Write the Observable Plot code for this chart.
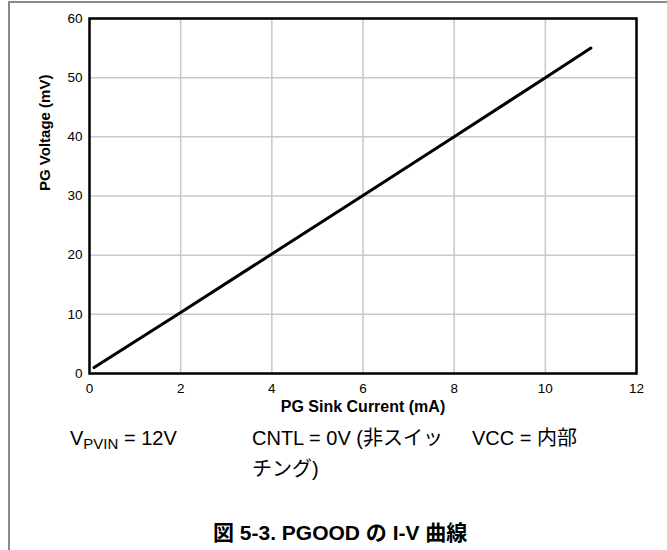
<!DOCTYPE html>
<html>
<head>
<meta charset="utf-8">
<script src="https://cdn.jsdelivr.net/npm/d3@7"></script>
<script src="https://cdn.jsdelivr.net/npm/@observablehq/plot@0.6"></script>
<style>
  html, body { margin: 0; padding: 0; background: #fff; }
  #wrap { position: relative; width: 667px; height: 550px; overflow: hidden; background: #fff;
          font-family: "Liberation Sans", Arial, "Noto Sans CJK JP", sans-serif; }
  #border { position: absolute; left: 8px; top: 1px; width: 670px; height: 560px;
            border-top: 2px solid #8a8a8a; border-left: 2px solid #8a8a8a; }
  #chart { position: absolute; left: 0; top: 0; }
  #cap { position: absolute; left: 0; top: 0; }
</style>
</head>
<body>
<div id="wrap">
  <div id="border"></div>
  <div id="chart"></div>
  <svg id="cap" width="667" height="550" font-family="Liberation Sans, Arial, Noto Sans CJK JP, sans-serif" fill="#000">
    <text x="70" y="445" font-size="20">V<tspan font-size="15" dy="4">PVIN</tspan><tspan dy="-4"> = 12V</tspan></text>
    <text x="252" y="445" font-size="20">CNTL = 0V (非スイッ</text>
    <text x="252" y="476" font-size="20">チング)</text>
    <text x="472" y="445" font-size="20">VCC = 内部</text>
    <text x="213" y="540" font-size="21" font-weight="bold">図 5-3. PGOOD の I-V 曲線</text>
  </svg>
</div>
<script>
// Data
const sinkCurrent = [0.1, 2, 4, 6, 8, 10, 11];        // mA
const pgVoltage   = [1, 10.3, 20.2, 30.1, 40, 50, 55];  // mV
const xTicks = [0, 2, 4, 6, 8, 10, 12];
const yTicks = [0, 10, 20, 30, 40, 50, 60];
const xLabel = "PG Sink Current (mA)";
const yLabel = "PG Voltage (mV)";

const data = sinkCurrent.map((c, i) => ({current: c, voltage: pgVoltage[i]}));

const chart = Plot.plot({
  width: 667,
  height: 420,
  marginLeft: 89,
  marginRight: 31,
  marginTop: 18,
  marginBottom: 47,
  x: {domain: [0, 12]},
  y: {domain: [0, 60]},
  style: {fontFamily: "Liberation Sans, Arial, sans-serif", fontSize: "13.5px", color: "#000", background: "transparent"},
  marks: [
    Plot.gridX(xTicks, {stroke: "#c8c8c8", strokeOpacity: 1, strokeWidth: 1.5}),
    Plot.gridY(yTicks, {stroke: "#c8c8c8", strokeOpacity: 1, strokeWidth: 1.5}),
    Plot.axisX(xTicks, {tickSize: 0, tickPadding: 10, fontSize: 13.5, label: null}),
    Plot.axisY(yTicks, {tickSize: 0, tickPadding: 7, fontSize: 13.5, label: null}),
    Plot.line(data, {x: "current", y: "voltage", stroke: "#000", strokeWidth: 3}),
    Plot.frame({stroke: "#000", strokeWidth: 2.5}),
    Plot.text([xLabel], {text: d => d, frameAnchor: "bottom", lineAnchor: "middle", dy: 33, fontWeight: "bold", fontSize: 16}),
    Plot.text([yLabel], {text: d => d, frameAnchor: "left", rotate: -90, dx: -44, dy: -5, fontWeight: "bold", fontSize: 15})
  ]
});
document.getElementById("chart").appendChild(chart);
</script>
</body>
</html>
